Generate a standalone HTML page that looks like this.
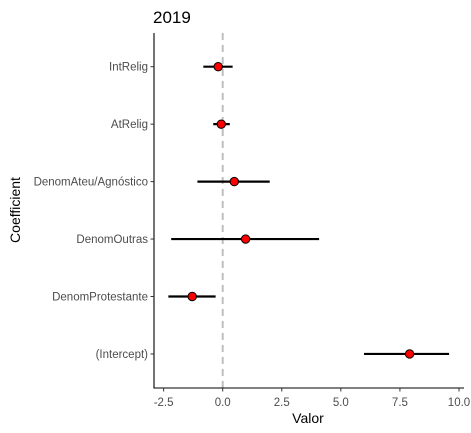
<!DOCTYPE html>
<html><head><meta charset="utf-8"><style>
body{margin:0;background:#fff;}
svg{display:block;font-family:"Liberation Sans",Arial,sans-serif;}
</style></head><body>
<svg id="chart" width="471" height="433">
<text x="153" y="23" font-size="17" fill="#000">2019</text>
<line x1="222.7" y1="33" x2="222.7" y2="388" stroke="#bebebe" stroke-width="2" stroke-dasharray="7,5"/>
<g id="marks"></g>
<line x1="154" y1="33" x2="154" y2="388.5" stroke="#000" stroke-width="1.1"/>
<line x1="153.5" y1="388" x2="464" y2="388" stroke="#000" stroke-width="1.1"/>
<g id="axes"></g>
<text x="308" y="423" font-size="14" text-anchor="middle" fill="#000">Valor</text>
<text transform="translate(20,210) rotate(-90)" font-size="14" text-anchor="middle" fill="#000">Coefficient</text>
</svg>
<script>
const categories=["IntRelig","AtRelig","DenomAteu/Agnóstico","DenomOutras","DenomProtestante","(Intercept)"];
const estimates=[-0.19,-0.06,0.49,0.97,-1.29,7.91];
const lowers=[-0.82,-0.4,-1.07,-2.18,-2.3,5.98];
const uppers=[0.42,0.3,1.99,4.08,-0.3,9.58];
const xTicks=[-2.5,0,2.5,5,7.5,10];
const xTickLabels=["-2.5","0.0","2.5","5.0","7.5","10.0"];
const NS="http://www.w3.org/2000/svg";
function xs(v){return 222.7+v*23.63;}
function ys(i){return 66.7+i*57.45;}
function mk(tag,a,parent){const e=document.createElementNS(NS,tag);for(const k in a)e.setAttribute(k,a[k]);parent.appendChild(e);return e;}
const marks=document.getElementById('marks'),axes=document.getElementById('axes');
categories.forEach((c,i)=>{
  const y=ys(i);
  const l=mk('line',{x1:xs(lowers[i]),x2:xs(uppers[i]),y1:y,y2:y,stroke:'#000','stroke-width':2.2},marks);
  
  
  const p=mk('circle',{cx:xs(estimates[i]),cy:y,r:4.2,fill:'#ff0000',stroke:'#000','stroke-width':1},marks);
  
  
  const t=mk('line',{x1:150.5,x2:154,y1:y,y2:y,stroke:'#333','stroke-width':1},axes);
  
  
  const tx=mk('text',{x:148,y:y+4,'font-size':11.5,'text-anchor':'end',fill:'#4d4d4d'},axes);
  tx.textContent=c;
  
  
});
xTicks.forEach((v,i)=>{
  const x=xs(v);
  const t=mk('line',{x1:x,x2:x,y1:388,y2:391.5,stroke:'#333','stroke-width':1},axes);
  
  
  const tx=mk('text',{x:x,y:406,'font-size':11.5,'text-anchor':'middle',fill:'#4d4d4d'},axes);
  tx.textContent=xTickLabels[i];
  
  
});
</script>
</body></html>
